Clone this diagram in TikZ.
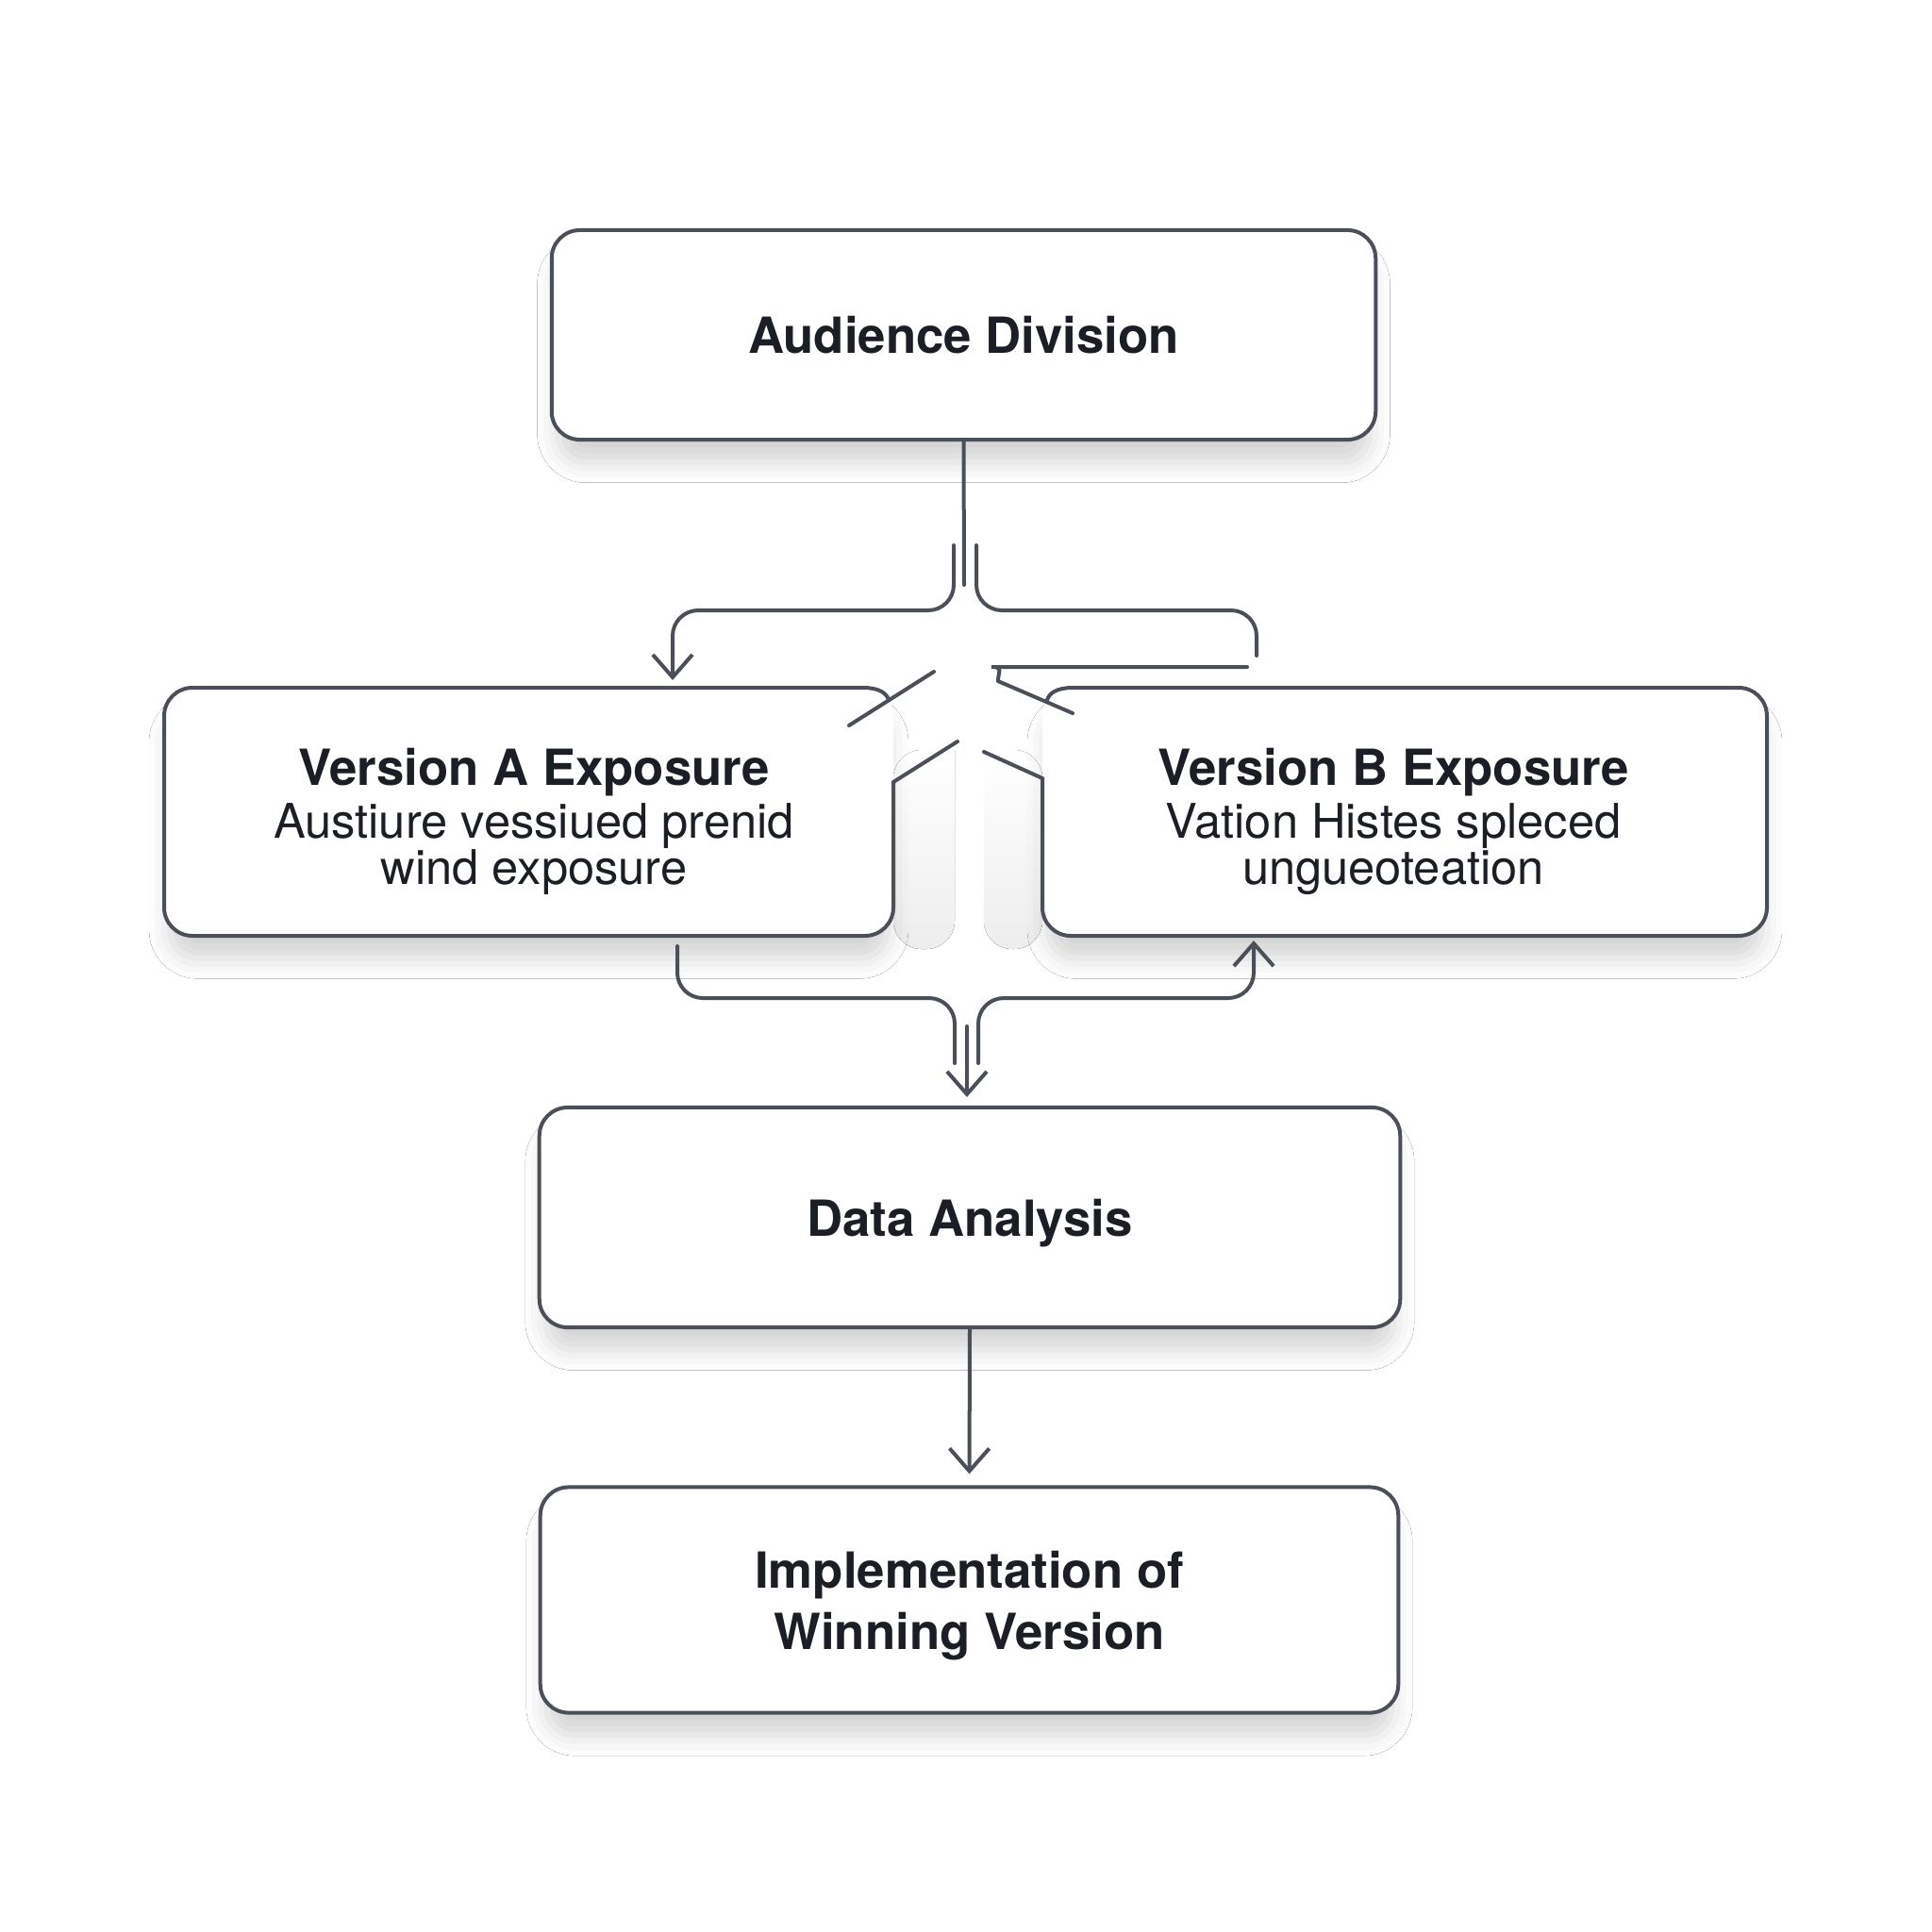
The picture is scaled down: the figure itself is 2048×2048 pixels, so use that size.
\documentclass[tikz,border=0pt]{standalone}
\usepackage{fontspec}
\setmainfont{TeX Gyre Heros}
\usepackage{xcolor}
\usetikzlibrary{arrows.meta}
\usetikzlibrary{calc}
\usetikzlibrary{positioning}
\usetikzlibrary{shadows.blur}
\definecolor{linegray}{HTML}{4A4F58}
\definecolor{textdark}{HTML}{1B1E24}
\newcommand{\boxtitle}{\fontsize{15pt}{18.5pt}\selectfont\bfseries}
\newcommand{\boxbody}{\fontsize{14.4pt}{14pt}\selectfont}

\begin{document}
\begin{tikzpicture}[x=0.01cm,y=-0.01cm,>={Straight Barb[length=2.4mm,width=4.2mm]},semithick]
	\tikzstyle{shad}=[blur shadow={shadow xshift=0mm, shadow yshift=-2.6mm, shadow scale=0.985,
		shadow blur radius=2.2mm, shadow opacity=17}]
	\tikzstyle{blk}=[rectangle, rounded corners=3mm, draw=linegray, line width=0.4mm, fill=white, text=textdark,
		align=center, inner sep=0pt, text depth=0pt, font=\boxtitle, shad]
	\tikzstyle{txt}=[align=center, inner sep=0pt, text=textdark, font=\boxbody]
	\tikzstyle{ln}=[draw=linegray, line width=0.4mm, rounded corners=2.7mm, line cap=round]
	\useasboundingbox[fill=white] (0,0) rectangle (2048,2048);
	% grey patches beside the notched boxes
	\fill[top color=white, bottom color=gray!14] (947,795) -- (1012,795) [rounded corners=3mm] -- (1012,1006) -- (947,1006) -- cycle;
	\fill[top color=white, bottom color=gray!14] (1105,795) -- (1043,795) [rounded corners=3mm] -- (1043,1006) -- (1105,1006) -- cycle;
	% white backs of the two version boxes
	\fill[white, rounded corners=3mm, shad] (174,729) rectangle (947,992);
	\fill[white, rounded corners=3mm, shad] (1105,729) rectangle (1873,992);
	\node[blk, minimum width=8.73cm, minimum height=2.22cm] (top) at (1021.5,355) {Audience Division};
	\node[txt] (vera) at (566,871) {{\boxtitle Version A Exposure}\\[2pt]Austiure vessiued prenid\\ wind exposure};
	\node[txt] (verb) at (1477,871) {{\boxtitle Version B Exposure}\\[2pt]Vation Histes spleced\\ ungueoteation};
	\node[blk, minimum width=9.12cm, minimum height=2.33cm] (data) at (1028,1290.5) {Data Analysis};
	\node[blk, minimum width=9.09cm, minimum height=2.39cm] (impl) at (1027.5,1696) {Implementation of\\ Winning Version};
	% outlines of the two version boxes
	\draw[ln, rounded corners=3mm] (947,829) -- (947,992) -- (174,992) -- (174,729) -- (915,729);
	\draw[ln] (915,729) .. controls (932,729) and (940,735) .. (942,742);
	\draw[ln] (900,769) -- (990,712);
	\draw[ln] (947,829) -- (1015,786);
	\draw[ln, rounded corners=3mm] (1105,825) -- (1105,992) -- (1873,992) -- (1873,729) -- (1137,729);
	\draw[ln] (1137,729) .. controls (1120,729) and (1112,735) .. (1110,742);
	\draw[ln] (1105,825) -- (1043,797);
	\draw[ln] (1058,722) -- (1137,756);
	\draw[ln] (1058,722) .. controls (1058,712) and (1064,707) .. (1078,707) -- (1322,707);
	% split below the top box
	\coordinate (stem) at (1022,620);
	\coordinate (la) at (1011,578);
	\coordinate (ra) at (1035,578);
	\coordinate (lc) at (713,647);
	\draw[ln] (top.south) -- (stem);
	\draw[ln,->,shorten >=0.8mm] (la) -- (1011,647) -- (lc) -- (lc |- 0,729);
	\draw[ln] (ra) -- (1035,647) -- (1332,647) -- (1332,695);
	% merge above the data box
	\coordinate (lb) at (718,1003);
	\coordinate (mid) at (1025,1088);
	\coordinate (rb) at (1037,1127);
	\coordinate (rc) at (1329,1058);
	\draw[ln] (lb) -- (718,1058) -- (1012,1058) -- (1012,1127);
	\draw[ln,->,shorten >=0.9mm] (mid) -- (mid |- data.north);
	\draw[ln,->,shorten >=0.5mm] (rb) -- (1037,1058) -- (rc) -- (rc |- 0,992);
	\draw[ln,->,shorten >=1.2mm] (data.south) -- (impl.north);
\end{tikzpicture}
\end{document}
